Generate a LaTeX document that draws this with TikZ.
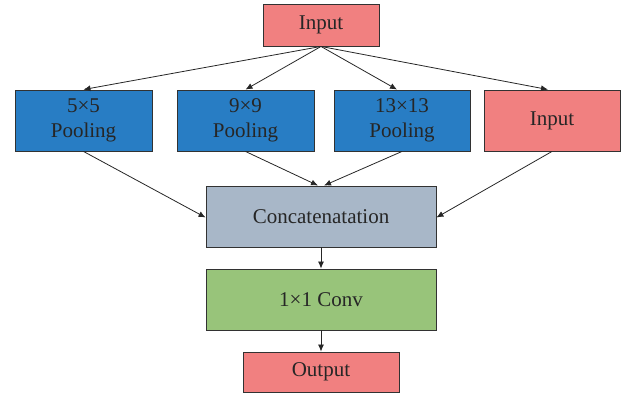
\documentclass[tikz,border=0pt]{standalone}
\usepackage{fontspec}
\setmainfont{Liberation Serif}
\usetikzlibrary{arrows.meta}
\definecolor{inpink}{RGB}{241,128,128}
\definecolor{poolblue}{RGB}{40,125,196}
\definecolor{catgray}{RGB}{168,183,200}
\definecolor{convgreen}{RGB}{152,196,122}
\definecolor{edge}{RGB}{50,50,50}
\tikzset{
  blk/.style={draw=edge, line width=0.9pt, inner sep=0pt, align=center,
    font=\fontsize{21}{25}\selectfont, text=black!85},
  arr/.style={line width=0.8pt, draw=black!85, -{Latex[length=7pt,width=6pt]}}
}
\begin{document}
\begin{tikzpicture}[x=1pt,y=-1pt]
\useasboundingbox (0,0) rectangle (633,396);
% top input
\node[blk, fill=inpink, minimum width=116pt, minimum height=42pt] (in) at (321,25) {Input};
% second row: pooling branches and identity
\node[blk, fill=poolblue, minimum width=137pt, minimum height=61pt] (p5) at (83.5,120.5) {5×5\\Pooling};
\node[blk, fill=poolblue, minimum width=137pt, minimum height=61pt] (p9) at (245.5,120.5) {9×9\\Pooling};
\node[blk, fill=poolblue, minimum width=136pt, minimum height=61pt] (p13) at (402,120.5) {13×13\\Pooling};
\node[blk, fill=inpink, minimum width=136pt, minimum height=61pt] (id) at (552,120.5) {Input};
% merge and output path
\node[blk, fill=catgray, minimum width=230pt, minimum height=61pt] (cat) at (321,216.5) {Concatenatation};
\node[blk, fill=convgreen, minimum width=230pt, minimum height=61pt] (conv) at (321,299.5) {1×1 Conv};
\node[blk, fill=inpink, minimum width=156pt, minimum height=40pt] (out) at (321,372) {Output};
% connectors
\draw[arr] (in.south) -- (p5.north);
\draw[arr] (in.south) -- (p9.north);
\draw[arr] (in.south) -- ([xshift=-5pt]p13.north);
\draw[arr] (in.south) -- ([xshift=-4pt]id.north);
\draw[arr] (p5.south) -- ([yshift=-1pt]cat.west);
\draw[arr] (p9.south) -- ([xshift=-3pt]cat.north);
\draw[arr] (p13.south) -- ([xshift=3pt]cat.north);
\draw[arr] (id.south) -- ([yshift=-1pt]cat.east);
\draw[arr] (cat.south) -- (conv.north);
\draw[arr] (conv.south) -- (out.north);
\end{tikzpicture}
\end{document}
